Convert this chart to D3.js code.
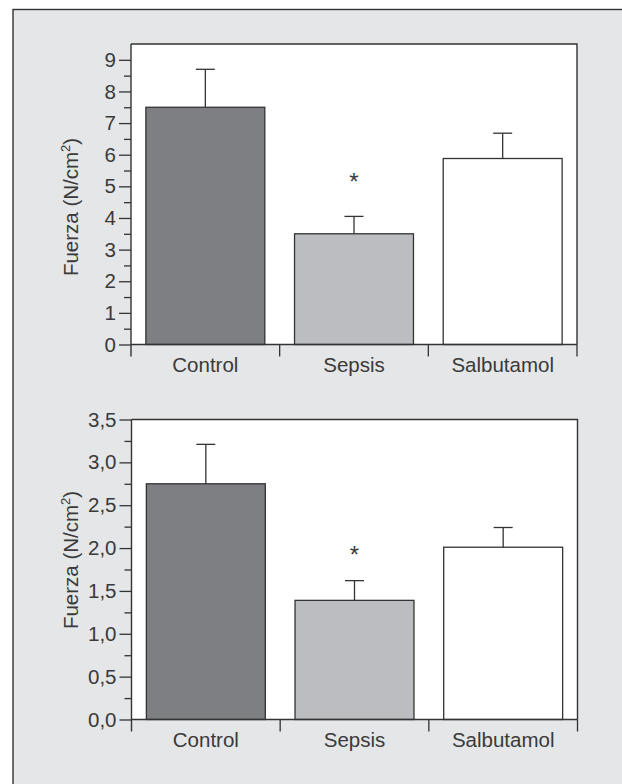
<!DOCTYPE html>
<html><head><meta charset="utf-8">
<script src="https://cdn.jsdelivr.net/npm/d3@7"></script>
<style>html,body{margin:0;padding:0;background:#fff;}svg{display:block;}</style>
</head><body>
<script>
const categories = ["Control", "Sepsis", "Salbutamol"];
const barColors = ["#7e7f83", "#bcbdc0", "#ffffff"];
// Panel 1
const values1 = [7.5, 3.5, 5.88];
const errTop1 = [8.7, 4.05, 6.68];
const yTicks1 = [0,1,2,3,4,5,6,7,8,9];
const yMinor1 = [0.5,1.5,2.5,3.5,4.5,5.5,6.5,7.5,8.5];
const yMax1 = 9.5;
const star1 = {cat: "Sepsis", y: 5.31};
// Panel 2
const values2 = [2.75, 1.39, 2.01];
const errTop2 = [3.21, 1.62, 2.24];
const yTicks2 = [0,0.5,1,1.5,2,2.5,3,3.5];
const yMinor2 = [0.25,0.75,1.25,1.75,2.25,2.75,3.25];
const yMax2 = 3.5;
const star2 = {cat: "Sepsis", y: 1.98};
const yTitle = "Fuerza (N/cm";

const W = 622, H = 784;
const ink = "#333333";
const txt = "#3a3a3a";
const font = "'Liberation Sans', Arial, sans-serif";
const fs = 20.5;
const svg = d3.select("body").append("svg").attr("width", W).attr("height", H);

svg.append("rect").attr("x", 13).attr("y", 9.5).attr("width", W + 20).attr("height", H + 20)
  .attr("fill", "#e5e6e8").attr("stroke", ink).attr("stroke-width", 1.4);

function panel(cfg) {
  const x = d3.scaleBand().domain(categories).range([cfg.left, cfg.right]).paddingInner(0.2).paddingOuter(0.1);
  const y = d3.scaleLinear().domain([0, cfg.yMax]).range([cfg.bottom, cfg.top]);
  const g = svg.append("g");
  g.append("rect").attr("x", cfg.left).attr("y", y(cfg.yMax)).attr("width", cfg.right - cfg.left)
    .attr("height", y(0) - y(cfg.yMax)).attr("fill", "#fff").attr("stroke", "none");
  g.append("path").attr("d", `M${cfg.left},${y(cfg.yMax)}H${cfg.right}V${y(0)}`)
    .attr("fill", "none").attr("stroke", ink).attr("stroke-width", 1.4);
  g.selectAll(".bar").data(categories).join("rect")
    .attr("x", d => x(d)).attr("width", x.bandwidth())
    .attr("y", (d, i) => y(cfg.values[i])).attr("height", (d, i) => y(0) - y(cfg.values[i]))
    .attr("fill", (d, i) => barColors[i]).attr("stroke", ink).attr("stroke-width", 1.3);
  const capW = 9.5;
  categories.forEach((c, i) => {
    const cx = x(c) + x.bandwidth() / 2;
    g.append("line").attr("x1", cx).attr("x2", cx).attr("y1", y(cfg.values[i])).attr("y2", y(cfg.err[i]))
      .attr("stroke", ink).attr("stroke-width", 1.3);
    g.append("line").attr("x1", cx - capW).attr("x2", cx + capW).attr("y1", y(cfg.err[i])).attr("y2", y(cfg.err[i]))
      .attr("stroke", ink).attr("stroke-width", 1.3);
  });
  g.append("text").attr("x", x(cfg.star.cat) + x.bandwidth() / 2).attr("y", y(cfg.star.y) + 13.7)
    .attr("text-anchor", "middle").attr("font-family", font).attr("font-size", 24).attr("fill", txt).text("*");
  const yAxis = d3.axisLeft(y).tickValues(cfg.yTicks).tickSize(12).tickPadding(3).tickFormat(cfg.fmt);
  const ya = g.append("g").attr("transform", `translate(${cfg.left},0)`).call(yAxis);
  ya.select(".domain").remove();
  ya.selectAll(".tick line").attr("stroke", ink).attr("stroke-width", 1.3);
  ya.selectAll(".tick text").attr("font-family", font).attr("font-size", fs).attr("fill", txt);
  const yMin = d3.axisLeft(y).tickValues(cfg.yMinor).tickSize(7).tickFormat("");
  const ym = g.append("g").attr("transform", `translate(${cfg.left},0)`).call(yMin);
  ym.select(".domain").remove();
  ym.selectAll(".tick line").attr("stroke", ink).attr("stroke-width", 1.3);
  g.append("line").attr("x1", cfg.left).attr("x2", cfg.left).attr("y1", y(cfg.yMax)).attr("y2", y(0) + 12)
    .attr("stroke", ink).attr("stroke-width", 1.4);
  g.append("line").attr("x1", cfg.left).attr("x2", cfg.right).attr("y1", y(0)).attr("y2", y(0))
    .attr("stroke", ink).attr("stroke-width", 1.4);
  const step = x.step();
  const bounds = categories.map(c => x(c) - step * 0.1).concat([x(categories[2]) + x.bandwidth() + step * 0.1]);
  g.selectAll(".xt").data(bounds.slice(1)).join("line")
    .attr("x1", d => d).attr("x2", d => d).attr("y1", y(0)).attr("y2", y(0) + 12)
    .attr("stroke", ink).attr("stroke-width", 1.3);
  g.selectAll(".xl").data(categories).join("text")
    .attr("x", d => x(d) + x.bandwidth() / 2).attr("y", y(0) + 27.5)
    .attr("text-anchor", "middle").attr("font-family", font).attr("font-size", fs).attr("fill", txt)
    .text(d => d);
  const t = g.append("text").attr("transform", `translate(78,${cfg.titleY}) rotate(-90)`)
    .attr("text-anchor", "middle").attr("font-family", font).attr("font-size", fs).attr("fill", txt);
  t.append("tspan").text(yTitle);
  t.append("tspan").attr("font-size", 13).attr("dy", -8).text("2");
  t.append("tspan").attr("dy", 8).text(")");
}

panel({left: 131, right: 577, top: 44, bottom: 344.5, yMax: yMax1, values: values1, err: errTop1,
  yTicks: yTicks1, yMinor: yMinor1, star: star1, fmt: d3.format("d"), titleY: 207});
panel({left: 131.5, right: 577.5, top: 419.5, bottom: 719.5, yMax: yMax2, values: values2, err: errTop2,
  yTicks: yTicks2, yMinor: yMinor2, star: star2, fmt: d => d3.format(".1f")(d).replace(".", ","), titleY: 560});
</script>
</body></html>
